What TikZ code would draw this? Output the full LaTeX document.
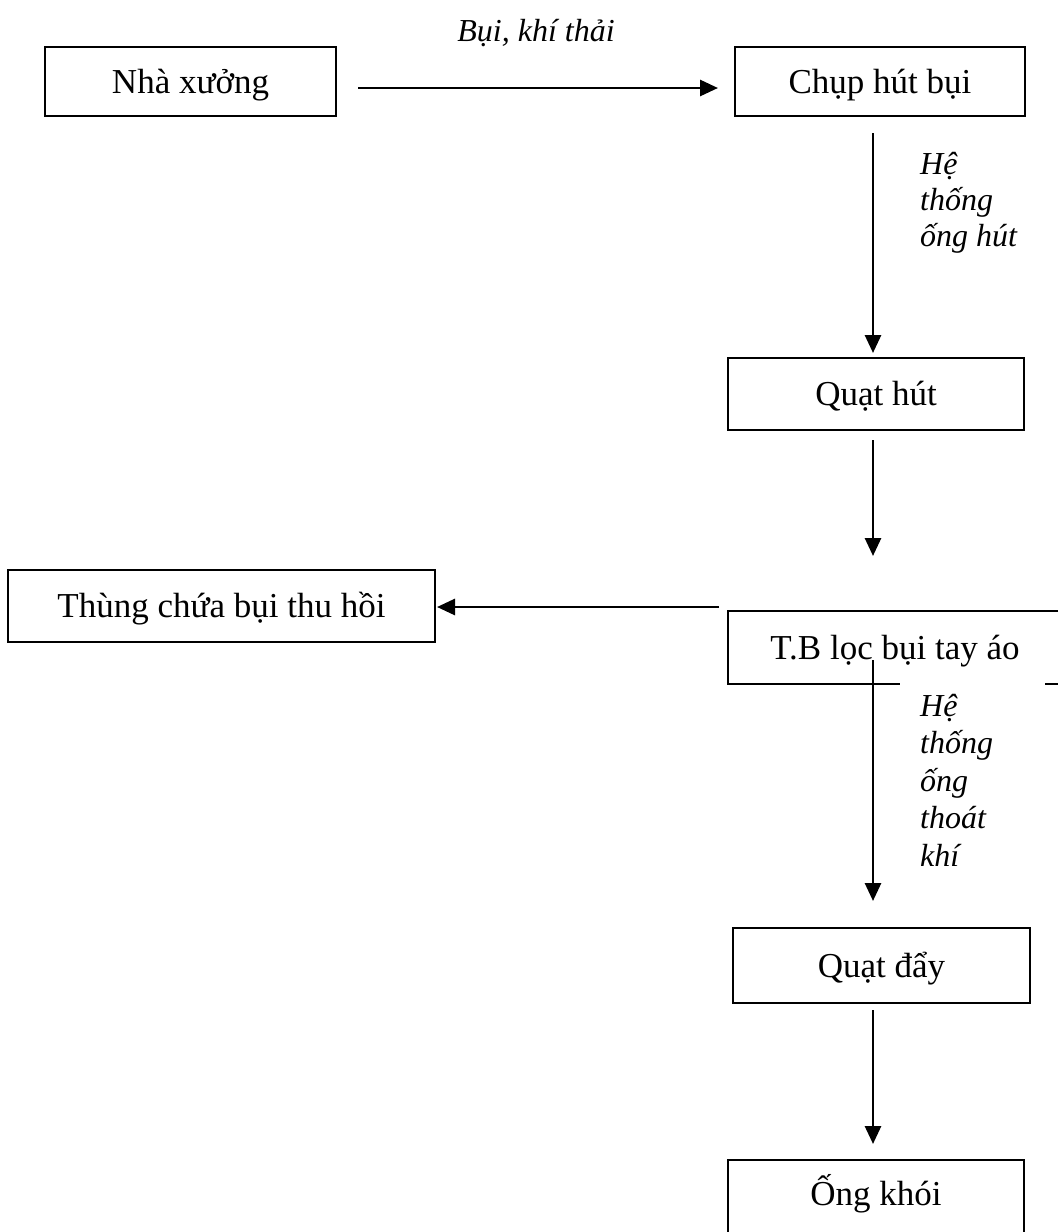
\documentclass[tikz,border=0pt]{standalone}
\usepackage{fontspec}
\setmainfont{Liberation Serif}
\usetikzlibrary{arrows.meta}
\begin{document}
\begin{tikzpicture}[x=1pt,y=-1pt,
  box/.style={draw,line width=2pt,rectangle,inner sep=0pt,text height=23pt,text depth=0pt,font=\fontsize{35}{42}\selectfont},
  lbl/.style={font=\fontsize{32}{36}\selectfont\itshape,inner sep=0pt},
  flow/.style={line width=2.8pt,-{Triangle[length=18pt,width=16pt]}},
  edge/.style={line width=2pt}]
\useasboundingbox (0,0) rectangle (1058,1232);
% boxes
\node[box,minimum width=291pt,minimum height=69pt] (nx) at (190.5,81.5) {Nhà xưởng};
\node[box,minimum width=290pt,minimum height=69pt] (ch) at (880,81.5) {Chụp hút bụi};
\node[box,minimum width=296pt,minimum height=72pt] (qh) at (876,394) {Quạt hút};
\node[box,minimum width=427pt,minimum height=72pt] (tc) at (221.5,606) {Thùng chứa bụi thu hồi};
\node[box,draw=none,minimum width=330pt,minimum height=73pt] (tb) at (895,647.5) {T.B lọc bụi tay áo};
\node[box,minimum width=297pt,minimum height=75pt] (qd) at (881.5,965.5) {Quạt đẩy};
\node[box,draw=none,minimum width=296pt,minimum height=72pt] (ok) at (876,1194) {Ống khói};
% partial outlines
\draw[edge] (1058,611) -- (728,611) -- (728,684) -- (900,684);
\draw[edge] (1045,684) -- (1058,684);
\draw[edge] (728,1232) -- (728,1160) -- (1024,1160) -- (1024,1232);
% connector end points
\coordinate (a1s) at (358,88);   \coordinate (a1e) at (718,88);
\coordinate (a2s) at (873,133);  \coordinate (a2e) at (873,353);
\coordinate (a3s) at (873,440);  \coordinate (a3e) at (873,556);
\coordinate (a4s) at (719,607);  \coordinate (a4e) at (437,607);
\coordinate (a5s) at (873,660);  \coordinate (a5e) at (873,901);
\coordinate (a6s) at (873,1010); \coordinate (a6e) at (873,1144);
\draw[flow] (a1s) -- (a1e);
\draw[flow] (a2s) -- (a2e);
\draw[flow] (a3s) -- (a3e);
\draw[flow] (a4s) -- (a4e);
\draw[flow] (a5s) -- (a5e);
\draw[flow] (a6s) -- (a6e);
% labels
\node[lbl] (l1) at (536,33) {Bụi, khí thải};
\node[lbl,anchor=north west,align=left] (l2) at (920,152) {Hệ\\thống\\ống hút};
\node[lbl,anchor=north west,align=left,font=\fontsize{32}{37.5}\selectfont\itshape] (l3) at (920,694) {Hệ\\thống\\ống\\thoát\\khí};
\end{tikzpicture}
\end{document}
